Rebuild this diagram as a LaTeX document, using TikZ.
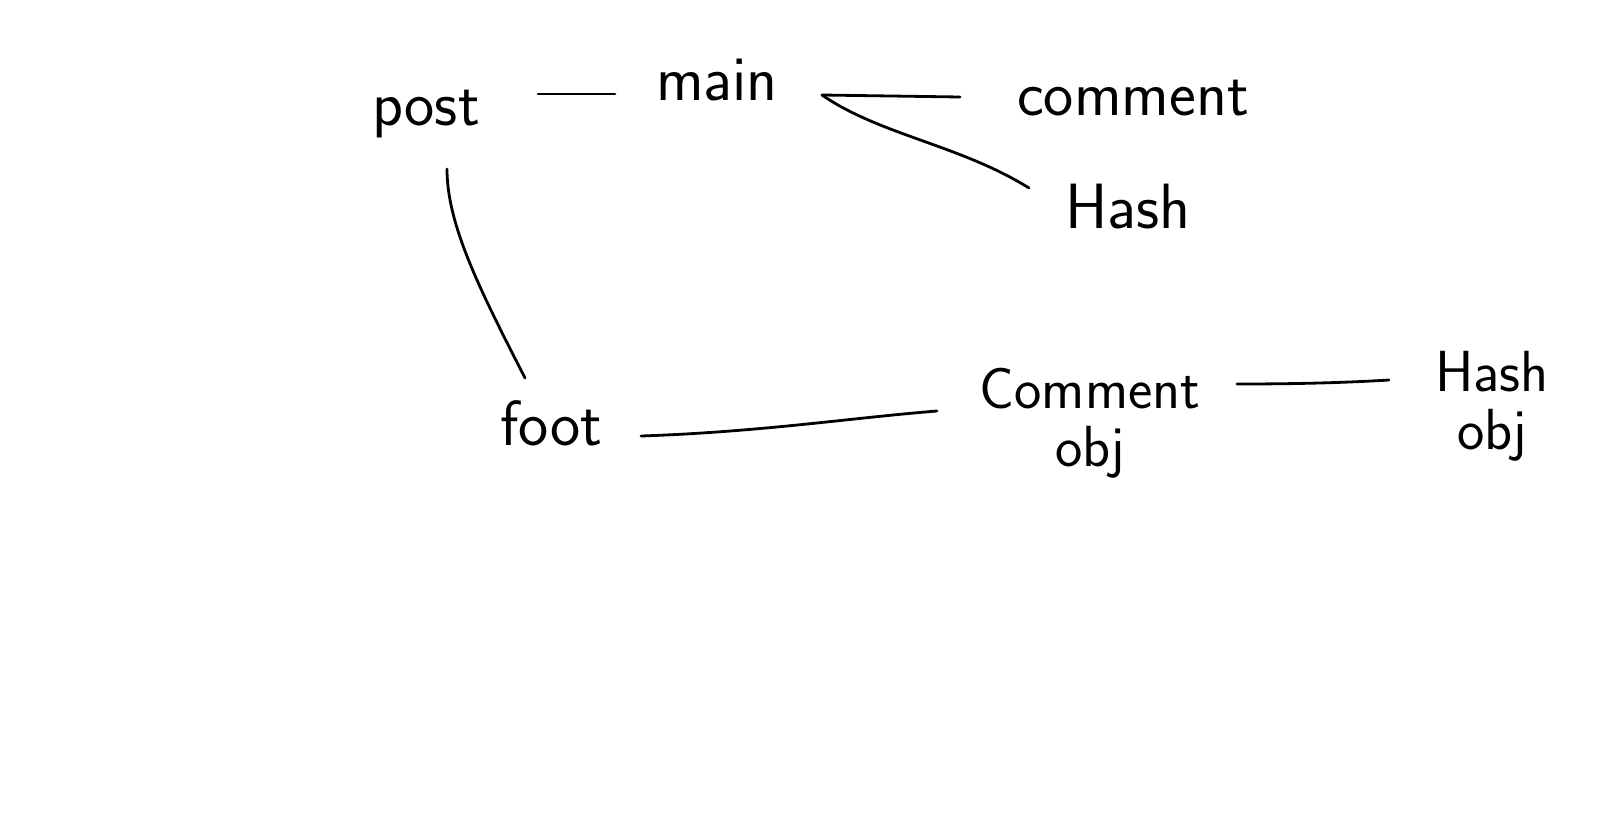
\documentclass[tikz,border=0pt]{standalone}
\usetikzlibrary{calc}
\begin{document}
\begin{tikzpicture}[x=1pt,y=-1pt,
  lbl/.style={font=\sffamily\fontsize{64}{64}\selectfont, inner sep=0pt, text=black},
  lblb/.style={lbl, anchor=base},
  stack/.style={lbl, align=center, font=\sffamily\fontsize{58}{58}\selectfont},
  wire/.style={draw=black, line width=2.8pt, line cap=round}]
\fill[white] (0,0) rectangle (1622,814);
\useasboundingbox (0,0) rectangle (1622,814);

\node[lblb] (post) at (426,125) {post};
\node[lblb] (main) at (717,100) {main};
\node[lblb] (comment) at (1133,115) {comment};
\node[lblb] (hash) at (1128,228) {Hash};
\node[lblb] (foot) at (551,445) {foot};
\node[stack] (cobj) at (1090,423) {Comment\\obj};
\node[stack] (hobj) at (1492,406) {Hash\\obj};

\draw[wire] ($(post.base)+(112,-31)$) -- ($(main.base)+(-102,-6)$);
\draw[wire] ($(main.base)+(105,-5)$) -- ($(comment.base)+(-173,-18)$);
\draw[wire] ($(main.base)+(105,-5)$) .. controls (880,135) and (960,145) .. ($(hash.base)+(-99,-40)$);
\draw[wire] ($(post.base)+(21,44)$) .. controls (447,225) and (480,290) .. ($(foot.base)+(-26,-67)$);
\draw[wire] ($(foot.base)+(90,-9)$) .. controls (760,432) and (850,418) .. ($(cobj)+(-153,-12)$);
\draw[wire] ($(cobj)+(147,-39)$) .. controls (1290,384) and (1340,383) .. ($(hobj)+(-103,-26)$);
\end{tikzpicture}
\end{document}
